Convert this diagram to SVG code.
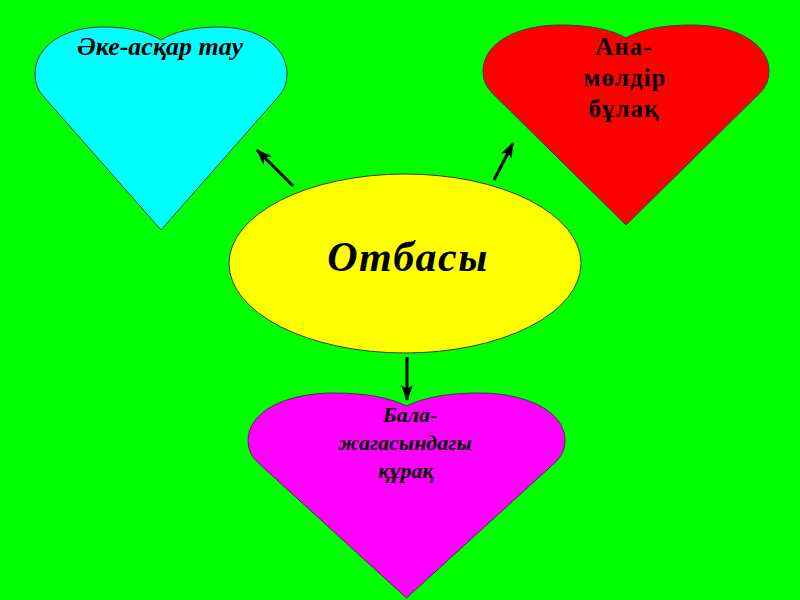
<svg xmlns="http://www.w3.org/2000/svg" width="800" height="600" viewBox="0 0 800 600">
<style>
.heart{stroke:#3a3a3a;stroke-width:1}
.lbl{font-family:"Liberation Serif","Times New Roman",serif;font-weight:bold;fill:#000;text-anchor:middle}
.it{font-style:italic}
.conn{stroke:#000;stroke-width:3;fill:none}
</style>
<defs>
<marker id="ah" markerUnits="userSpaceOnUse" markerWidth="16" markerHeight="12" viewBox="0 0 16 12" refX="15" refY="6" orient="auto">
<path d="M0,0 L16,6 L0,12 L4,6 Z" fill="#000"/>
</marker>
</defs>
<rect x="0" y="0" width="800" height="600" fill="#00ff00"/>
<g id="father">
<path class="heart" fill="#00ffff" d="M161,40 C175.1,31.1 195,27 219,27 C256.8,27 287,45.3 287,74.1 Q287,87.1 278.9,96 L161,230 L43.1,96 Q35,87.1 35,74.1 C35,45.3 65.2,27 103,27 C127,27 146.9,31.1 161,40 Z"/>
<text class="lbl it" x="160" y="55" font-size="26">Әке-асқар тау</text>
</g>
<g id="mother">
<path class="heart" fill="#ff0000" d="M626,37.8 C642,29 664.6,25 691.8,25 C734.7,25 769,43 769,71.4 Q769,84.2 759.8,93 L626,225 L492.2,93 Q483,84.2 483,71.4 C483,43 517.3,25 560.2,25 C587.4,25 610,29 626,37.8 Z"/>
<text class="lbl" font-size="25" x="624" letter-spacing="1"><tspan x="624" y="55">Ана-</tspan><tspan x="625" y="86">мөлдір</tspan><tspan x="624" y="117">бұлақ</tspan></text>
</g>
<g id="child">
<path class="heart" fill="#ff00ff" d="M406.5,406.1 C424.3,397.1 449.3,393 479.4,393 C527,393 565,411.5 565,440.6 Q565,453.7 554.9,462.7 L406.5,598 L258.1,462.7 Q248,453.7 248,440.6 C248,411.5 286,393 333.6,393 C363.7,393 388.7,397.1 406.5,406.1 Z"/>
<text class="lbl it" font-size="22" x="406"><tspan x="410" y="422">Бала-</tspan><tspan x="405" y="450">жагасындагы</tspan><tspan x="406" y="478">құрақ</tspan></text>
</g>
<g id="family">
<ellipse cx="405" cy="263.5" rx="176" ry="89.5" fill="#ffff00" stroke="#3a3a3a" stroke-width="1"/>
<text class="lbl it" x="408" y="271" font-size="42" letter-spacing="1.5">Отбасы</text>
</g>
<g id="connectors">
<line class="conn" x1="293" y1="186" x2="257" y2="150" marker-end="url(#ah)"/>
<line class="conn" x1="494" y1="180" x2="513" y2="143" marker-end="url(#ah)"/>
<line class="conn" x1="407" y1="357" x2="407" y2="400" marker-end="url(#ah)"/>
</g>
</svg>
